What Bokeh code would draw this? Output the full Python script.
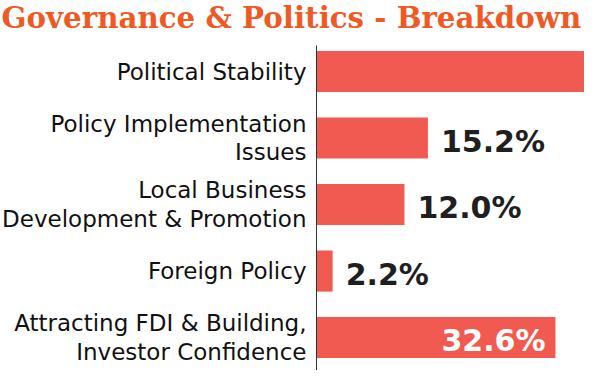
from bokeh.plotting import figure
from bokeh.models import Range1d, ColumnDataSource
from bokeh.core.properties import value
from bokeh.embed import file_html
from bokeh.resources import INLINE

categories = [
    "Political Stability",
    "Policy Implementation\nIssues",
    "Local Business\nDevelopment & Promotion",
    "Foreign Policy",
    "Attracting FDI & Building,\nInvestor Confidence",
]
values = [38.0, 15.2, 12.0, 2.2, 32.6]
title_text = "Governance & Politics - Breakdown"

BAR = "#F15A50"
TITLE_C = "#EF5A24"
W, H = 584, 370
PX = 7.33          # pixels per percentage point
LEFT = 316         # pixel position of the value axis
UNIT = 66.5        # pixels per category row
FIRST = 71         # pixel position of the first row centre
AXIS_TOP = 45      # pixel where the axis line starts
TITLE_POS = 17     # title anchor pixel

ypos = list(range(len(categories)))
x0, x1 = -LEFT / PX, (W - LEFT) / PX
y_top, y_bot = -FIRST / UNIT, (H - FIRST) / UNIT

p = figure(width=W, height=H, output_backend="svg", toolbar_location=None,
           x_range=Range1d(x0, x1), y_range=Range1d(y_bot, y_top),
           x_axis_location=None, y_axis_location=None,
           min_border=0)
p.xgrid.visible = False
p.ygrid.visible = False
p.outline_line_color = None

# title
p.text(x=[x0], y=[(TITLE_POS - FIRST) / UNIT], text=[title_text], x_offset=1,
       text_font=value("DejaVu Serif"), text_font_style="bold", text_font_size="29.3px",
       text_color=TITLE_C, text_align="left", text_baseline="alphabetic")

# bars
src = ColumnDataSource(dict(y=ypos, v=values, c=categories))
p.hbar(y="y", right="v", left=0, height=0.62, source=src, color=BAR, line_color=None)

# axis line
p.segment(x0=[0], y0=[(AXIS_TOP - FIRST) / UNIT], x1=[0], y1=[y_bot],
          line_color="#333333", line_width=1)

# category labels
p.text(x=0, y="y", text="c", source=src, x_offset=-10,
       text_font=value("DejaVu Sans"), text_font_size="23px", text_color="#111111",
       text_align="right", text_baseline="middle", text_line_height=1.08)

# value labels: outside the bar when short, inside (white) when long
out_y, out_v, out_t = [], [], []
in_y, in_v, in_t = [], [], []
for y, v in zip(ypos, values):
    t = f"{v:.1f}%"
    if v > 30 and v < x1 - 1:
        in_y.append(y); in_v.append(v); in_t.append(t)
    elif v <= 30:
        out_y.append(y); out_v.append(v); out_t.append(t)

p.text(x=out_v, y=out_y, text=out_t, x_offset=13, y_offset=3,
       text_font=value("DejaVu Sans"), text_font_style="bold", text_font_size="30px",
       text_color="#1f1f1f", text_align="left", text_baseline="middle")
p.text(x=in_v, y=in_y, text=in_t, x_offset=-10, y_offset=3,
       text_font=value("DejaVu Sans"), text_font_style="bold", text_font_size="30px",
       text_color="white", text_align="right", text_baseline="middle")

open("out.html", "w").write(file_html(p, INLINE))
